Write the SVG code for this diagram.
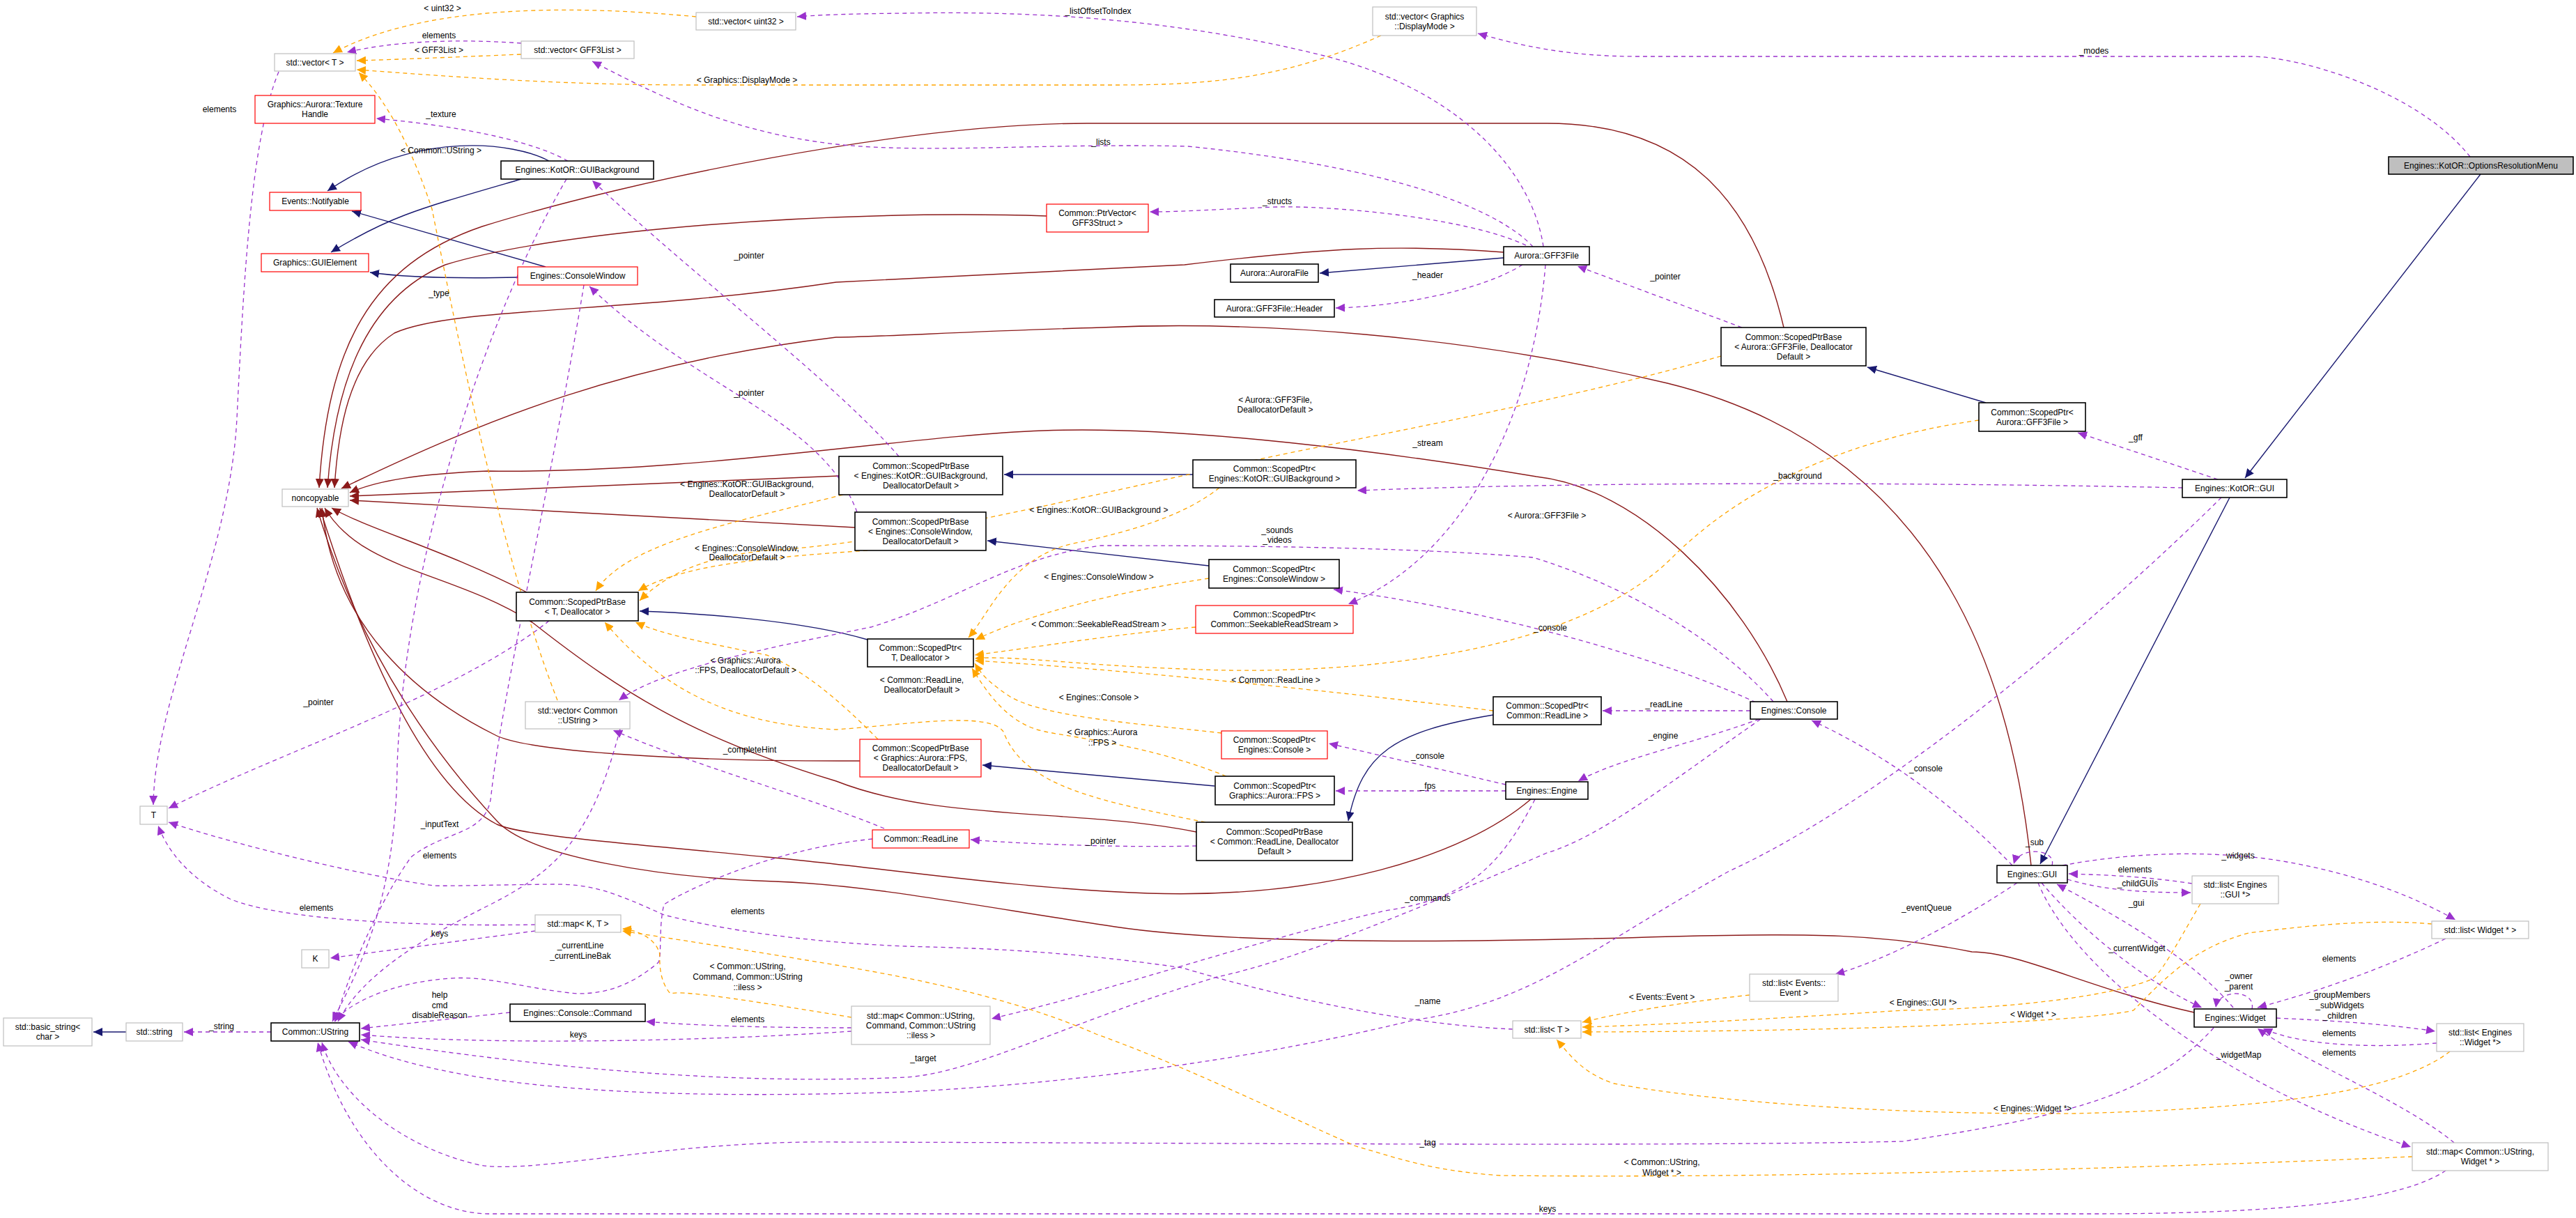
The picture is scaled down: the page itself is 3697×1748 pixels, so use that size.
<svg xmlns="http://www.w3.org/2000/svg" width="3697" height="1748" viewBox="0 0 3697 1748">
<style>
text{font-family:"Liberation Sans",Arial,sans-serif;font-size:12px;fill:#000;text-anchor:middle}
.nd rect{fill:#fff;stroke-width:1.2}
.doc rect{stroke:#000;stroke-width:1.6}
.red rect{stroke:#ff0000}
.ext rect{stroke:#bfbfbf}
.cur rect{fill:#bfbfbf;stroke:#000;stroke-width:1.6}
.nv{fill:none;stroke:#191970;stroke-width:1.4;marker-end:url(#an)}
.rd{fill:none;stroke:#8b1a1a;stroke-width:1.4;marker-end:url(#ar)}
.pu{fill:none;stroke:#9a32cd;stroke-width:1.3;stroke-dasharray:6,5;marker-end:url(#ap)}
.or{fill:none;stroke:#ffa500;stroke-width:1.3;stroke-dasharray:6,5;marker-end:url(#ao)}
</style>
<defs>
<marker id="an" markerUnits="userSpaceOnUse" markerWidth="14" markerHeight="12" refX="13" refY="6" orient="auto"><path d="M0,0 L13,6 L0,12 z" fill="#191970"/></marker>
<marker id="ar" markerUnits="userSpaceOnUse" markerWidth="14" markerHeight="12" refX="13" refY="6" orient="auto"><path d="M0,0 L13,6 L0,12 z" fill="#8b1a1a"/></marker>
<marker id="ap" markerUnits="userSpaceOnUse" markerWidth="14" markerHeight="12" refX="13" refY="6" orient="auto"><path d="M0,0 L13,6 L0,12 z" fill="#9a32cd"/></marker>
<marker id="ao" markerUnits="userSpaceOnUse" markerWidth="14" markerHeight="12" refX="13" refY="6" orient="auto"><path d="M0,0 L13,6 L0,12 z" fill="#ffa500"/></marker>
</defs>
<rect width="3697" height="1748" fill="#fff"/>
<g id="edges">
<path class="nv" d="M3560,250 L3222,686"/>
<path class="nv" d="M3200,714 L2928,1240"/>
<path class="nv" d="M788,231 C740,205 600,185 470,274"/>
<path class="nv" d="M748,257 C600,300 560,310 475,362"/>
<path class="nv" d="M783,383 L505,303"/>
<path class="nv" d="M743,398 C650,400 580,398 531,391"/>
<path class="nv" d="M2158,370 L1894,392"/>
<path class="nv" d="M2850,578 L2680,527"/>
<path class="nv" d="M1712,681 L1441,681"/>
<path class="nv" d="M1735,812 L1417,776"/>
<path class="nv" d="M1245,918 C1150,890 1000,880 918,877"/>
<path class="nv" d="M1743,1128 L1410,1098"/>
<path class="nv" d="M2143,1026 C2000,1050 1955,1080 1935,1178"/>
<path class="nv" d="M181,1481 L134,1481"/>
<path class="rd" d="M2560,470 C2520,300 2430,177 2220,177 L1560,177 C1300,177 900,260 692,325 C530,380 470,500 458,700"/>
<path class="rd" d="M1502,310 C1200,300 800,330 639,380 C520,430 480,560 470,700"/>
<path class="rd" d="M2158,362 C2000,350 1900,356 1700,380 L1200,405 C900,450 650,440 566,478 C500,520 485,620 480,700"/>
<path class="rd" d="M2915,1242 C2890,1000 2800,650 2393,550 C2100,480 1800,460 1580,470 C1400,475 1250,484 1200,484 C900,520 700,600 490,701"/>
<path class="rd" d="M2565,1007 C2500,850 2350,700 2205,684 C2000,650 1700,610 1497,618 C1300,625 1000,680 700,676 C600,680 540,690 502,707"/>
<path class="rd" d="M1204,683 L502,712"/>
<path class="rd" d="M1227,757 L502,718"/>
<path class="rd" d="M756,850 C640,790 530,760 476,729"/>
<path class="rd" d="M1234,1092 C1000,1093 760,1080 711,1055 C600,1000 480,900 462,729"/>
<path class="rd" d="M1717,1194 C1550,1160 1350,1180 1200,1121 C1000,1060 900,1000 765,894 C650,820 520,820 466,729"/>
<path class="rd" d="M2197,1147 C2100,1230 1900,1290 1648,1282 C1450,1275 1250,1243 1100,1230 C900,1210 750,1200 713,1183 C650,1150 560,1050 459,729"/>
<path class="rd" d="M3149,1453 C3000,1420 2900,1366 2830,1366 C2700,1340 2600,1339 2400,1344 C2200,1350 1800,1360 1600,1330 C1400,1300 1250,1270 1112,1265 C950,1260 760,1230 713,1178 C640,1100 520,950 455,729"/>
<path class="pu" d="M3545,225 C3470,130 3300,81 3230,81 L2350,81 C2250,81 2180,65 2121,48"/>
<path class="pu" d="M3183,688 L2982,621"/>
<path class="pu" d="M3132,700 C2800,693 2300,690 1948,704"/>
<path class="pu" d="M3188,714 C3000,900 2700,1150 2482,1250 C2300,1350 2200,1440 2029,1464 C1800,1520 1550,1554 1300,1567 C900,1580 650,1560 500,1495"/>
<path class="pu" d="M815,231 C760,200 650,180 540,170"/>
<path class="pu" d="M813,257 C700,450 580,800 570,1100 C568,1300 510,1400 477,1466"/>
<path class="pu" d="M838,409 C790,700 720,1000 705,1140 C700,1200 640,1190 590,1230 C540,1300 500,1400 481,1466"/>
<path class="pu" d="M890,1046 C850,1200 800,1250 700,1300 C600,1350 520,1400 485,1466"/>
<path class="pu" d="M1290,655 C1200,550 1000,400 850,259"/>
<path class="pu" d="M1230,735 C1180,600 1000,560 846,411"/>
<path class="pu" d="M788,891 C650,1000 400,1080 242,1160"/>
<path class="pu" d="M400,103 C360,200 350,400 340,600 C330,800 222,1000 220,1155"/>
<path class="pu" d="M768,1327 C600,1330 400,1320 330,1290 C270,1260 240,1220 227,1185"/>
<path class="pu" d="M768,1336 L474,1375"/>
<path class="pu" d="M2171,1477 C2000,1470 1800,1420 1697,1389 C1500,1360 1350,1360 1300,1358 C1100,1350 980,1320 953,1313 C880,1280 850,1269 796,1269 C700,1270 640,1272 622,1271 C480,1250 300,1200 242,1180"/>
<path class="pu" d="M748,62 C650,55 560,60 498,75"/>
<path class="pu" d="M2215,354 C2200,250 2100,130 1900,80 C1700,30 1500,15 1300,19 C1200,20 1170,22 1144,24"/>
<path class="pu" d="M2200,354 C2150,300 2000,240 1705,210 C1500,205 1332,221 1200,207 C1050,190 950,140 850,88"/>
<path class="pu" d="M2190,352 C2100,310 1900,295 1833,297 C1750,300 1700,304 1650,304"/>
<path class="pu" d="M2185,380 C2120,420 2000,440 1917,442"/>
<path class="pu" d="M2500,470 L2264,382"/>
<path class="pu" d="M2218,380 C2200,600 2100,800 1935,867"/>
<path class="pu" d="M2545,1007 C2450,900 2300,830 2200,800 C2000,783 1700,783 1580,783 C1450,800 1380,860 1250,900 C1100,930 950,960 888,1005"/>
<path class="pu" d="M2520,1008 C2350,930 2100,870 1914,846"/>
<path class="pu" d="M2512,1020 L2300,1020"/>
<path class="pu" d="M2525,1032 C2420,1070 2320,1090 2265,1121"/>
<path class="pu" d="M2161,1126 L1907,1067"/>
<path class="pu" d="M2161,1135 L1917,1135"/>
<path class="pu" d="M2888,1242 C2800,1150 2700,1080 2600,1034"/>
<path class="pu" d="M2203,1147 C2150,1250 2100,1290 1988,1307 C1800,1350 1600,1420 1423,1462"/>
<path class="pu" d="M2527,1032 C2400,1120 2300,1200 2220,1224 C2000,1320 1850,1380 1747,1402 C1550,1460 1400,1540 1300,1546 C1000,1560 700,1520 518,1492"/>
<path class="pu" d="M3177,1475 C3100,1560 3000,1598 2731,1638 C2400,1646 1700,1640 1200,1639 C950,1636 750,1690 680,1670 C560,1640 480,1560 462,1496"/>
<path class="pu" d="M3510,1680 C3450,1720 3300,1742 3000,1742 L700,1742 C600,1740 500,1650 456,1496"/>
<path class="pu" d="M1252,1204 C1100,1220 980,1280 953,1298 C945,1330 950,1370 945,1381 C900,1420 860,1426 829,1426 C760,1420 700,1400 647,1404 C560,1410 500,1440 480,1466"/>
<path class="pu" d="M1269,1189 C1150,1140 1000,1100 880,1048"/>
<path class="pu" d="M1717,1214 C1600,1217 1450,1210 1393,1205"/>
<path class="pu" d="M732,1453 L518,1476"/>
<path class="pu" d="M1222,1480 C1000,1495 700,1500 518,1485"/>
<path class="pu" d="M1222,1475 C1100,1475 1000,1472 927,1466"/>
<path class="pu" d="M389,1481 L264,1481"/>
<path class="pu" d="M2895,1267 C2800,1330 2700,1380 2634,1398"/>
<path class="pu" d="M3146,1268 C3080,1258 3030,1256 2969,1254"/>
<path class="pu" d="M2967,1262 C3020,1278 3080,1281 3144,1281"/>
<path class="pu" d="M2960,1242 C3050,1225 3150,1220 3250,1232 C3380,1250 3470,1290 3524,1320"/>
<path class="pu" d="M3205,1446 C3150,1380 3050,1320 2952,1269"/>
<path class="pu" d="M2930,1267 C3000,1350 3100,1420 3160,1446"/>
<path class="pu" d="M2945,1242 C2952,1218 2898,1214 2890,1240"/>
<path class="pu" d="M3232,1448 C3238,1420 3184,1418 3180,1446"/>
<path class="pu" d="M3510,1347 C3400,1400 3300,1430 3240,1446"/>
<path class="pu" d="M3267,1461 C3350,1465 3430,1470 3495,1480"/>
<path class="pu" d="M3497,1497 C3400,1505 3300,1500 3248,1476"/>
<path class="pu" d="M3522,1640 C3450,1580 3300,1520 3240,1476"/>
<path class="pu" d="M2925,1267 C2980,1400 3200,1560 3460,1646"/>
<path class="or" d="M999,24 C800,5 600,10 478,76"/>
<path class="or" d="M748,78 C650,82 580,85 512,87"/>
<path class="or" d="M1982,51 C1850,110 1750,122 1600,122 L1000,122 C800,122 650,110 512,100"/>
<path class="or" d="M800,1005 C720,800 660,500 620,300 C580,180 540,130 515,104"/>
<path class="or" d="M1210,710 C1050,750 900,780 855,848"/>
<path class="or" d="M1245,790 C1100,800 980,810 916,848"/>
<path class="or" d="M2470,511 C2300,560 2100,600 1900,640 C1600,700 1300,780 1100,790 C1000,800 950,830 918,862"/>
<path class="or" d="M1260,1061 C1200,1000 1150,960 1100,940 C1000,920 950,910 912,893"/>
<path class="or" d="M1730,1180 C1580,1150 1470,1130 1440,1050 C1420,1020 1300,1040 1200,1047 C1050,1040 950,990 868,893"/>
<path class="or" d="M1750,700 C1700,740 1620,764 1540,780 C1450,800 1420,880 1390,915"/>
<path class="or" d="M1735,830 C1600,850 1480,880 1400,918"/>
<path class="or" d="M1716,900 C1600,910 1480,930 1399,940"/>
<path class="or" d="M2840,603 C2650,630 2500,700 2400,800 C2250,950 1900,970 1700,960 C1550,955 1450,940 1399,945"/>
<path class="or" d="M2143,1020 C1900,990 1600,960 1399,948"/>
<path class="or" d="M1753,1052 C1650,1040 1500,1030 1450,1000 C1420,980 1410,970 1399,952"/>
<path class="or" d="M1760,1114 C1650,1070 1550,1060 1500,1050 C1450,1040 1420,1000 1395,959"/>
<path class="or" d="M1222,1460 C1100,1440 980,1420 962,1426 C940,1400 950,1364 945,1364 C940,1350 920,1335 893,1333"/>
<path class="or" d="M3462,1660 C3000,1680 2500,1691 2153,1687 C2050,1680 2000,1660 1946,1645 C1800,1580 1700,1530 1573,1484 C1450,1430 1300,1402 1200,1385 C1050,1360 950,1345 893,1336"/>
<path class="or" d="M2511,1428 C2400,1440 2320,1455 2271,1467"/>
<path class="or" d="M3158,1297 C3120,1362 3100,1400 3087,1406 C3000,1440 2800,1450 2731,1450 C2500,1465 2350,1472 2271,1474"/>
<path class="or" d="M3490,1326 C3400,1318 3300,1330 3227,1339 C3150,1360 3110,1400 3062,1450 C3000,1465 2700,1480 2271,1481"/>
<path class="or" d="M3516,1509 C3450,1560 3300,1590 2979,1598 C2700,1600 2450,1580 2316,1555 C2270,1540 2250,1510 2234,1492"/>
</g>
<g id="labels">
<text x="3005" y="77">_modes</text>
<text x="3065" y="632">_gff</text>
<text x="2580" y="687">_background</text>
<text x="633" y="168">_texture</text>
<text x="633" y="220">&lt; Common::UString &gt;</text>
<text x="630" y="425">_type</text>
<text x="1075" y="371">_pointer</text>
<text x="1075" y="568">_pointer</text>
<text x="457" y="1012">_pointer</text>
<text x="315" y="161">elements</text>
<text x="454" y="1307">elements</text>
<text x="631" y="1344">keys</text>
<text x="1073" y="1312">elements</text>
<text x="630" y="55">elements</text>
<text x="630" y="76">&lt; GFF3List &gt;</text>
<text x="635" y="16">&lt; uint32 &gt;</text>
<text x="1072" y="119">&lt; Graphics::DisplayMode &gt;</text>
<text x="1576" y="20">_listOffsetToIndex</text>
<text x="1580" y="208">_lists</text>
<text x="1833" y="293">_structs</text>
<text x="2049" y="399">_header</text>
<text x="2390" y="401">_pointer</text>
<text x="2049" y="640">_stream</text>
<text x="1833" y="765">_sounds</text>
<text x="1833" y="779">_videos</text>
<text x="2225" y="905">_console</text>
<text x="2388" y="1015">_readLine</text>
<text x="2387" y="1060">_engine</text>
<text x="2049" y="1089">_console</text>
<text x="2049" y="1132">_fps</text>
<text x="2764" y="1107">_console</text>
<text x="2049" y="1293">_commands</text>
<text x="2049" y="1441">_name</text>
<text x="1325" y="1523">_target</text>
<text x="2049" y="1644">_tag</text>
<text x="2221" y="1739">keys</text>
<text x="631" y="1187">_inputText</text>
<text x="631" y="1232">elements</text>
<text x="833" y="1361">_currentLine</text>
<text x="833" y="1376">_currentLineBak</text>
<text x="1076" y="1080">_completeHint</text>
<text x="1580" y="1211">_pointer</text>
<text x="631" y="1432">help</text>
<text x="631" y="1447">cmd</text>
<text x="631" y="1461">disableReason</text>
<text x="318" y="1477">_string</text>
<text x="1073" y="1467">elements</text>
<text x="830" y="1489">keys</text>
<text x="2920" y="1213">_sub</text>
<text x="3212" y="1232">_widgets</text>
<text x="3064" y="1252">elements</text>
<text x="3068" y="1272">_childGUIs</text>
<text x="3066" y="1300">_gui</text>
<text x="2765" y="1307">_eventQueue</text>
<text x="3067" y="1365">_currentWidget</text>
<text x="3357" y="1380">elements</text>
<text x="3213" y="1405">_owner</text>
<text x="3213" y="1420">_parent</text>
<text x="3358" y="1432">_groupMembers</text>
<text x="3358" y="1447">_subWidgets</text>
<text x="3358" y="1462">_children</text>
<text x="3357" y="1487">elements</text>
<text x="3357" y="1515">elements</text>
<text x="3213" y="1518">_widgetMap</text>
<text x="1072" y="699">&lt; Engines::KotOR::GUIBackground,</text>
<text x="1072" y="713">DeallocatorDefault &gt;</text>
<text x="1072" y="791">&lt; Engines::ConsoleWindow,</text>
<text x="1072" y="804">DeallocatorDefault &gt;</text>
<text x="1830" y="578">&lt; Aurora::GFF3File,</text>
<text x="1830" y="592">DeallocatorDefault &gt;</text>
<text x="1070" y="952">&lt; Graphics::Aurora</text>
<text x="1070" y="966">::FPS, DeallocatorDefault &gt;</text>
<text x="1323" y="980">&lt; Common::ReadLine,</text>
<text x="1323" y="994">DeallocatorDefault &gt;</text>
<text x="1577" y="736">&lt; Engines::KotOR::GUIBackground &gt;</text>
<text x="2220" y="744">&lt; Aurora::GFF3File &gt;</text>
<text x="1577" y="832">&lt; Engines::ConsoleWindow &gt;</text>
<text x="1577" y="900">&lt; Common::SeekableReadStream &gt;</text>
<text x="1831" y="980">&lt; Common::ReadLine &gt;</text>
<text x="1577" y="1005">&lt; Engines::Console &gt;</text>
<text x="1582" y="1055">&lt; Graphics::Aurora</text>
<text x="1582" y="1070">::FPS &gt;</text>
<text x="1073" y="1391">&lt; Common::UString,</text>
<text x="1073" y="1406">Command, Common::UString</text>
<text x="1073" y="1421">::iless &gt;</text>
<text x="2385" y="1435">&lt; Events::Event &gt;</text>
<text x="2760" y="1443">&lt; Engines::GUI *&gt;</text>
<text x="2918" y="1460">&lt; Widget * &gt;</text>
<text x="2917" y="1595">&lt; Engines::Widget *&gt;</text>
<text x="2385" y="1672">&lt; Common::UString,</text>
<text x="2385" y="1687">Widget * &gt;</text>
</g>
<g id="n_optmenu" class="nd cur"><rect x="3428" y="225" width="265" height="25"/><text x="3560.5" y="241.5">Engines::KotOR::OptionsResolutionMenu</text></g>
<g id="n_kgui" class="nd doc"><rect x="3132" y="688" width="150" height="26"/><text x="3207" y="705">Engines::KotOR::GUI</text></g>
<g id="n_egui" class="nd doc"><rect x="2866" y="1242" width="101" height="25"/><text x="2916.5" y="1258.5">Engines::GUI</text></g>
<g id="n_vec_dm" class="nd ext"><rect x="1970" y="10" width="149" height="41"/><text x="2044.5" y="27.5">std::vector&lt; Graphics</text><text x="2044.5" y="41.5">::DisplayMode &gt;</text></g>
<g id="n_vec_u32" class="nd ext"><rect x="999" y="18" width="143" height="25"/><text x="1070.5" y="34.5">std::vector&lt; uint32 &gt;</text></g>
<g id="n_vec_gl" class="nd ext"><rect x="748" y="59" width="162" height="25"/><text x="829" y="75.5">std::vector&lt; GFF3List &gt;</text></g>
<g id="n_vec_t" class="nd ext"><rect x="394" y="77" width="116" height="25"/><text x="452" y="93.5">std::vector&lt; T &gt;</text></g>
<g id="n_texh" class="nd red"><rect x="366" y="137" width="172" height="40"/><text x="452" y="154">Graphics::Aurora::Texture</text><text x="452" y="168">Handle</text></g>
<g id="n_guibg" class="nd doc"><rect x="719" y="231" width="219" height="26"/><text x="828.5" y="248">Engines::KotOR::GUIBackground</text></g>
<g id="n_notif" class="nd red"><rect x="387" y="276" width="131" height="26"/><text x="452.5" y="293">Events::Notifyable</text></g>
<g id="n_guiel" class="nd red"><rect x="375" y="364" width="154" height="26"/><text x="452" y="381">Graphics::GUIElement</text></g>
<g id="n_conwin" class="nd red"><rect x="743" y="383" width="172" height="26"/><text x="829" y="400">Engines::ConsoleWindow</text></g>
<g id="n_ptrvec" class="nd red"><rect x="1502" y="293" width="146" height="40"/><text x="1575" y="310">Common::PtrVector&lt;</text><text x="1575" y="324">GFF3Struct &gt;</text></g>
<g id="n_gff3" class="nd doc"><rect x="2158" y="354" width="123" height="26"/><text x="2219.5" y="371">Aurora::GFF3File</text></g>
<g id="n_aurfile" class="nd doc"><rect x="1766" y="379" width="126" height="26"/><text x="1829" y="396">Aurora::AuroraFile</text></g>
<g id="n_header" class="nd doc"><rect x="1743" y="430" width="172" height="25"/><text x="1829" y="446.5">Aurora::GFF3File::Header</text></g>
<g id="n_spb_gff" class="nd doc"><rect x="2470" y="470" width="208" height="55"/><text x="2574" y="487.5">Common::ScopedPtrBase</text><text x="2574" y="501.5">&lt; Aurora::GFF3File, Deallocator</text><text x="2574" y="515.5">Default &gt;</text></g>
<g id="n_sp_gff" class="nd doc"><rect x="2840" y="578" width="153" height="41"/><text x="2916.5" y="595.5">Common::ScopedPtr&lt;</text><text x="2916.5" y="609.5">Aurora::GFF3File &gt;</text></g>
<g id="n_noncopy" class="nd ext"><rect x="405" y="702" width="95" height="25"/><text x="452.5" y="718.5">noncopyable</text></g>
<g id="n_spb_bg" class="nd doc"><rect x="1204" y="655" width="235" height="55"/><text x="1321.5" y="672.5">Common::ScopedPtrBase</text><text x="1321.5" y="686.5">&lt; Engines::KotOR::GUIBackground,</text><text x="1321.5" y="700.5">DeallocatorDefault &gt;</text></g>
<g id="n_spb_cw" class="nd doc"><rect x="1227" y="735" width="188" height="55"/><text x="1321" y="752.5">Common::ScopedPtrBase</text><text x="1321" y="766.5">&lt; Engines::ConsoleWindow,</text><text x="1321" y="780.5">DeallocatorDefault &gt;</text></g>
<g id="n_sp_bg" class="nd doc"><rect x="1712" y="660" width="234" height="40"/><text x="1829" y="677">Common::ScopedPtr&lt;</text><text x="1829" y="691">Engines::KotOR::GUIBackground &gt;</text></g>
<g id="n_sp_cw" class="nd doc"><rect x="1735" y="803" width="187" height="41"/><text x="1828.5" y="820.5">Common::ScopedPtr&lt;</text><text x="1828.5" y="834.5">Engines::ConsoleWindow &gt;</text></g>
<g id="n_sp_srs" class="nd red"><rect x="1716" y="869" width="226" height="40"/><text x="1829" y="886">Common::ScopedPtr&lt;</text><text x="1829" y="900">Common::SeekableReadStream &gt;</text></g>
<g id="n_spb_t" class="nd doc"><rect x="741" y="850" width="175" height="41"/><text x="828.5" y="867.5">Common::ScopedPtrBase</text><text x="828.5" y="881.5">&lt; T, Deallocator &gt;</text></g>
<g id="n_sp_t" class="nd doc"><rect x="1245" y="917" width="152" height="40"/><text x="1321" y="934">Common::ScopedPtr&lt;</text><text x="1321" y="948">T, Deallocator &gt;</text></g>
<g id="n_vec_us" class="nd ext"><rect x="754" y="1007" width="150" height="39"/><text x="829" y="1023.5">std::vector&lt; Common</text><text x="829" y="1037.5">::UString &gt;</text></g>
<g id="n_sp_rl" class="nd doc"><rect x="2143" y="1000" width="155" height="40"/><text x="2220.5" y="1017">Common::ScopedPtr&lt;</text><text x="2220.5" y="1031">Common::ReadLine &gt;</text></g>
<g id="n_console" class="nd doc"><rect x="2512" y="1007" width="125" height="25"/><text x="2574.5" y="1023.5">Engines::Console</text></g>
<g id="n_sp_con" class="nd red"><rect x="1753" y="1049" width="152" height="40"/><text x="1829" y="1066">Common::ScopedPtr&lt;</text><text x="1829" y="1080">Engines::Console &gt;</text></g>
<g id="n_spb_fps" class="nd red"><rect x="1234" y="1061" width="174" height="54"/><text x="1321" y="1078">Common::ScopedPtrBase</text><text x="1321" y="1092">&lt; Graphics::Aurora::FPS,</text><text x="1321" y="1106">DeallocatorDefault &gt;</text></g>
<g id="n_sp_fps" class="nd doc"><rect x="1744" y="1114" width="171" height="41"/><text x="1829.5" y="1131.5">Common::ScopedPtr&lt;</text><text x="1829.5" y="1145.5">Graphics::Aurora::FPS &gt;</text></g>
<g id="n_engine" class="nd doc"><rect x="2161" y="1122" width="118" height="25"/><text x="2220" y="1138.5">Engines::Engine</text></g>
<g id="n_spb_rl" class="nd doc"><rect x="1717" y="1180" width="224" height="55"/><text x="1829" y="1197.5">Common::ScopedPtrBase</text><text x="1829" y="1211.5">&lt; Common::ReadLine, Deallocator</text><text x="1829" y="1225.5">Default &gt;</text></g>
<g id="n_readline" class="nd red"><rect x="1252" y="1191" width="139" height="26"/><text x="1321.5" y="1208">Common::ReadLine</text></g>
<g id="n_T" class="nd ext"><rect x="201" y="1157" width="39" height="26"/><text x="220.5" y="1174">T</text></g>
<g id="n_map_kt" class="nd ext"><rect x="768" y="1313" width="123" height="25"/><text x="829.5" y="1329.5">std::map&lt; K, T &gt;</text></g>
<g id="n_K" class="nd ext"><rect x="433" y="1363" width="39" height="26"/><text x="452.5" y="1380">K</text></g>
<g id="n_bstr" class="nd ext"><rect x="5" y="1461" width="127" height="40"/><text x="68.5" y="1478">std::basic_string&lt;</text><text x="68.5" y="1492">char &gt;</text></g>
<g id="n_str" class="nd ext"><rect x="181" y="1468" width="81" height="26"/><text x="221.5" y="1485">std::string</text></g>
<g id="n_ustr" class="nd doc"><rect x="389" y="1468" width="127" height="26"/><text x="452.5" y="1485">Common::UString</text></g>
<g id="n_cmd" class="nd doc"><rect x="732" y="1441" width="194" height="25"/><text x="829" y="1457.5">Engines::Console::Command</text></g>
<g id="n_map_cmd" class="nd ext"><rect x="1222" y="1444" width="199" height="55"/><text x="1321.5" y="1461.5">std::map&lt; Common::UString,</text><text x="1321.5" y="1475.5">Command, Common::UString</text><text x="1321.5" y="1489.5">::iless &gt;</text></g>
<g id="n_list_t" class="nd ext"><rect x="2171" y="1465" width="98" height="25"/><text x="2220" y="1481.5">std::list&lt; T &gt;</text></g>
<g id="n_list_gui" class="nd ext"><rect x="3146" y="1257" width="124" height="40"/><text x="3208" y="1274">std::list&lt; Engines</text><text x="3208" y="1288">::GUI *&gt;</text></g>
<g id="n_list_w" class="nd ext"><rect x="3490" y="1322" width="139" height="25"/><text x="3559.5" y="1338.5">std::list&lt; Widget * &gt;</text></g>
<g id="n_list_ev" class="nd ext"><rect x="2511" y="1398" width="127" height="39"/><text x="2574.5" y="1414.5">std::list&lt; Events::</text><text x="2574.5" y="1428.5">Event &gt;</text></g>
<g id="n_widget" class="nd doc"><rect x="3149" y="1448" width="118" height="26"/><text x="3208" y="1465">Engines::Widget</text></g>
<g id="n_list_ew" class="nd ext"><rect x="3497" y="1469" width="125" height="40"/><text x="3559.5" y="1486">std::list&lt; Engines</text><text x="3559.5" y="1500">::Widget *&gt;</text></g>
<g id="n_map_w" class="nd ext"><rect x="3462" y="1640" width="195" height="40"/><text x="3559.5" y="1657">std::map&lt; Common::UString,</text><text x="3559.5" y="1671">Widget * &gt;</text></g>
</svg>
